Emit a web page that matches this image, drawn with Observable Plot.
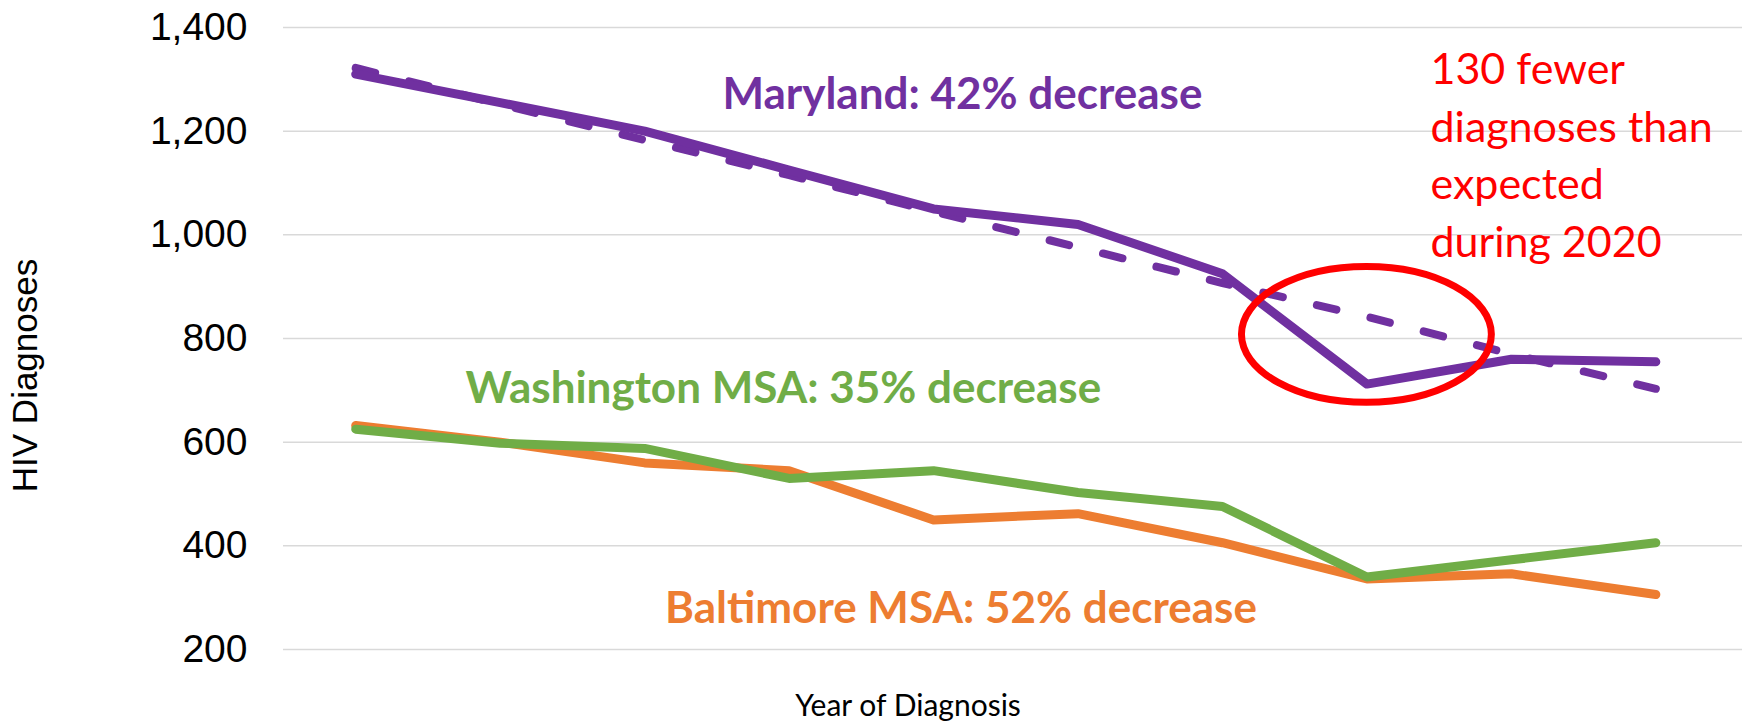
<!DOCTYPE html>
<html><head><meta charset="utf-8">
<script src="https://cdn.jsdelivr.net/npm/d3@7"></script>
<script src="https://cdn.jsdelivr.net/npm/@observablehq/plot@0.6"></script>
<style>html,body{margin:0;padding:0;background:#fff;}</style>
</head><body><div id="chart"></div>
<script>
const years = [2013, 2014, 2015, 2016, 2017, 2018, 2019, 2020, 2021, 2022];
const maryland = [1310, 1255, 1200, 1125, 1050, 1020, 925, 712, 760, 755];
const marylandExpected = [1322, 1252, 1183, 1115, 1045, 976, 907, 842, 770, 703];
const washington = [625, 598, 588, 530, 545, 503, 476, 340, 373, 406];
const baltimore = [632, 600, 560, 545, 450, 462, 406, 336, 346, 306];
const yTicks = [200, 400, 600, 800, 1000, 1200, 1400];
const labels = {
  maryland: "Maryland: 42% decrease",
  washington: "Washington MSA: 35% decrease",
  baltimore: "Baltimore MSA: 52% decrease",
  note: "130 fewer\ndiagnoses than\nexpected\nduring 2020",
  yTitle: "HIV Diagnoses",
  xTitle: "Year of Diagnosis"
};

const rows = arr => years.map((year, i) => ({year, value: arr[i]}));
const calibri = "Lato, Carlito, Calibri, sans-serif";

function ellipseMark(index, scales) {
  const cx = scales.x(2020), cy = scales.y(807);
  const rx = Math.abs(scales.x(2020 + 0.865) - cx);
  const ry = Math.abs(scales.y(807 + 131) - cy);
  const e = document.createElementNS("http://www.w3.org/2000/svg", "ellipse");
  e.setAttribute("cx", cx); e.setAttribute("cy", cy);
  e.setAttribute("rx", rx); e.setAttribute("ry", ry);
  e.setAttribute("fill", "none"); e.setAttribute("stroke", "#FF0000");
  e.setAttribute("stroke-width", 7);
  return e;
}

const lineOpts = {x: "year", y: "value", strokeWidth: 9, strokeLinecap: "round", strokeLinejoin: "round"};

const chart = Plot.plot({
  width: 1742, height: 726,
  marginLeft: 283, marginRight: 0, marginTop: 27, marginBottom: 77,
  style: {fontFamily: "'Liberation Sans', Arial, sans-serif", background: "#fff", color: "#000"},
  x: {type: "linear", domain: [2012.5, 2022.6], axis: null},
  y: {domain: [200, 1400]},
  marks: [
    Plot.gridY(yTicks, {stroke: "#d9d9d9", strokeOpacity: 1, strokeWidth: 1.5}),
    Plot.axisY(yTicks, {tickSize: 0, tickPadding: 36, fontSize: 39, tickFormat: d3.format(","), label: null, fill: "#000"}),
    Plot.lineY(rows(baltimore), {...lineOpts, stroke: "#ED7D31"}),
    Plot.lineY(rows(washington), {...lineOpts, stroke: "#70AD47"}),
    Plot.lineY(rows(marylandExpected), {...lineOpts, stroke: "#7030A0", strokeWidth: 8, strokeDasharray: "20,35"}),
    Plot.lineY(rows(maryland), {...lineOpts, stroke: "#7030A0"}),
    ellipseMark,
    Plot.text([labels.maryland], {x: () => 2017.2, y: () => 1270, text: d => d, fontFamily: calibri, fontWeight: "bold", fontSize: 44, fill: "#7030A0", textAnchor: "middle", lineAnchor: "middle"}),
    Plot.text([labels.washington], {x: () => 2015.96, y: () => 702, text: d => d, fontFamily: calibri, fontWeight: "bold", fontSize: 44, fill: "#70AD47", textAnchor: "middle", lineAnchor: "middle"}),
    Plot.text([labels.baltimore], {x: () => 2017.19, y: () => 279, text: d => d, fontFamily: calibri, fontWeight: "bold", fontSize: 44, fill: "#ED7D31", textAnchor: "middle", lineAnchor: "middle"}),
    Plot.text([labels.note], {x: () => 2020.44, y: () => 1370, text: d => d, fontFamily: calibri, fontSize: 43, lineHeight: 1.34, fill: "#FF0000", textAnchor: "start", lineAnchor: "top"}),
    Plot.text([labels.yTitle], {frameAnchor: "left", dx: -258, dy: 37, rotate: -90, text: d => d, fontSize: 35, textAnchor: "middle", lineAnchor: "middle", fill: "#000"}),
    Plot.text([labels.xTitle], {frameAnchor: "bottom", dx: -105, dy: 57, text: d => d, fontFamily: calibri, fontSize: 30, textAnchor: "middle", lineAnchor: "middle", fill: "#000"})
  ]
});
document.getElementById("chart").appendChild(chart);
</script></body></html>
